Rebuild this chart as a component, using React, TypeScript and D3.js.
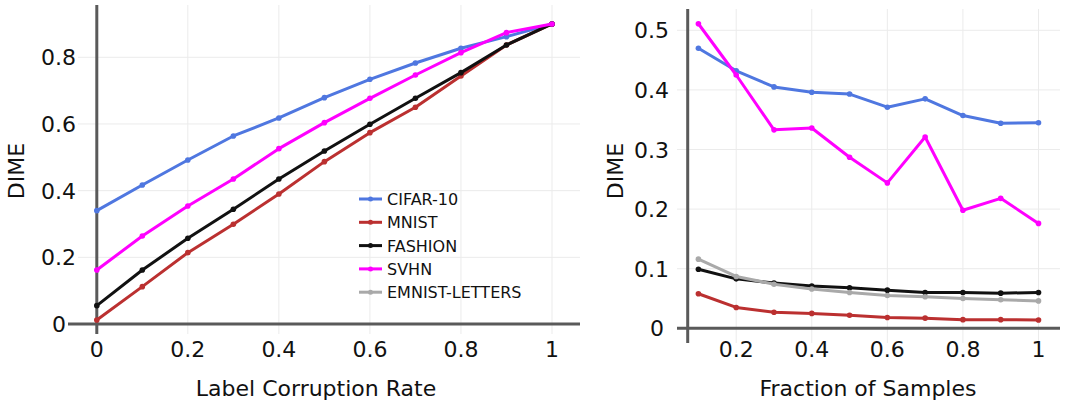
import React, { useRef, useEffect } from "react";
import * as d3 from "d3";

// left panel: DIME vs label corruption rate
const corruptionRates = [0, 0.1, 0.2, 0.3, 0.4, 0.5, 0.6, 0.7, 0.8, 0.9, 1];
const cifarCorrupt = [0.34, 0.417, 0.492, 0.564, 0.618, 0.679, 0.734, 0.783, 0.827, 0.862, 0.9];
const mnistCorrupt = [0.012, 0.112, 0.214, 0.299, 0.39, 0.487, 0.574, 0.65, 0.744, 0.837, 0.9];
const fashionCorrupt = [0.055, 0.162, 0.257, 0.344, 0.435, 0.519, 0.599, 0.677, 0.754, 0.837, 0.9];
const svhnCorrupt = [0.162, 0.264, 0.354, 0.435, 0.526, 0.604, 0.677, 0.747, 0.814, 0.874, 0.9];
const emnistCorrupt: number[] = [];

// right panel: DIME vs fraction of samples
const fractions = [0.1, 0.2, 0.3, 0.4, 0.5, 0.6, 0.7, 0.8, 0.9, 1];
const cifarFrac = [0.47, 0.432, 0.405, 0.396, 0.393, 0.371, 0.385, 0.357, 0.344, 0.345];
const mnistFrac = [0.058, 0.035, 0.027, 0.025, 0.022, 0.018, 0.017, 0.0145, 0.0145, 0.014];
const fashionFrac = [0.099, 0.083, 0.076, 0.071, 0.068, 0.064, 0.06, 0.06, 0.059, 0.06];
const svhnFrac = [0.511, 0.425, 0.333, 0.336, 0.287, 0.244, 0.321, 0.198, 0.218, 0.176];
const emnistFrac = [0.116, 0.087, 0.074, 0.066, 0.06, 0.055, 0.053, 0.05, 0.048, 0.046];

const seriesNames = ["CIFAR-10", "MNIST", "FASHION", "SVHN", "EMNIST-LETTERS"];
const seriesColors = ["#4f77e0", "#bb3030", "#111111", "#ff00ff", "#a9a9a9"];

const leftXTicks = [0, 0.2, 0.4, 0.6, 0.8, 1];
const leftYTicks = [0, 0.2, 0.4, 0.6, 0.8];
const rightXTicks = [0.2, 0.4, 0.6, 0.8, 1];
const rightYTicks = [0, 0.1, 0.2, 0.3, 0.4, 0.5];

const FONT = "DejaVu Sans, sans-serif";

const App = () => {
  const ref = useRef<SVGSVGElement>(null);

  useEffect(() => {
    const svg = d3.select(ref.current);
    svg.selectAll("*").remove();

    const drawPanel = (opts: any) => {
      const { xs, ys, x, y, box, axisX, xTicks, yTicks, xTitle, titleX } = opts;
      const g = svg.append("g");

      // grid
      g.selectAll(".vgrid")
        .data(xTicks)
        .enter()
        .append("line")
        .attr("x1", (d: number) => x(d))
        .attr("x2", (d: number) => x(d))
        .attr("y1", box.top)
        .attr("y2", box.bottom)
        .attr("stroke", "#ebebeb")
        .attr("stroke-width", 1);
      g.selectAll(".hgrid")
        .data(yTicks)
        .enter()
        .append("line")
        .attr("x1", box.gridLeft)
        .attr("x2", box.right)
        .attr("y1", (d: number) => y(d))
        .attr("y2", (d: number) => y(d))
        .attr("stroke", "#ebebeb")
        .attr("stroke-width", 1);

      // axis lines
      g.append("line")
        .attr("x1", box.left)
        .attr("x2", box.right)
        .attr("y1", y(0))
        .attr("y2", y(0))
        .attr("stroke", "#5a5a5a")
        .attr("stroke-width", 3);
      g.append("line")
        .attr("x1", axisX)
        .attr("x2", axisX)
        .attr("y1", box.top)
        .attr("y2", box.bottom)
        .attr("stroke", "#5a5a5a")
        .attr("stroke-width", 3);

      // tick labels
      g.selectAll(".xlab")
        .data(xTicks)
        .enter()
        .append("text")
        .attr("x", (d: number) => x(d))
        .attr("y", 357)
        .attr("text-anchor", "middle")
        .attr("font-family", FONT)
        .attr("font-size", 22)
        .attr("fill", "#111")
        .text((d: number) => String(d));
      g.selectAll(".ylab")
        .data(yTicks)
        .enter()
        .append("text")
        // the zero label sits left of where the x axis line starts
        .attr("x", (d: number) => (d === 0 ? box.zeroLabelRight : box.labelRight))
        .attr("y", (d: number) => y(d) + 8)
        .attr("text-anchor", "end")
        .attr("font-family", FONT)
        .attr("font-size", 22)
        .attr("fill", "#111")
        .text((d: number) => String(d));

      // titles
      g.append("text")
        .attr("x", titleX)
        .attr("y", 396)
        .attr("text-anchor", "middle")
        .attr("font-family", FONT)
        .attr("font-size", 22)
        .attr("fill", "#111")
        .text(xTitle);
      g.append("text")
        .attr("transform", `translate(${box.yTitleX}, 171) rotate(-90)`)
        .attr("text-anchor", "middle")
        .attr("font-family", FONT)
        .attr("font-size", 22)
        .attr("fill", "#111")
        .text("DIME");

      // series
      const line = d3
        .line<[number, number]>()
        .x((d) => x(d[0]))
        .y((d) => y(d[1]));
      ys.forEach((vals: number[], i: number) => {
        if (!vals.length) return;
        const pts: [number, number][] = vals.map((v, j) => [xs[j], v]);
        g.append("path")
          .datum(pts)
          .attr("d", line)
          .attr("fill", "none")
          .attr("stroke", seriesColors[i])
          .attr("stroke-width", 3)
          .attr("stroke-linejoin", "round");
        g.selectAll(null)
          .data(pts)
          .enter()
          .append("circle")
          .attr("cx", (d) => x(d[0]))
          .attr("cy", (d) => y(d[1]))
          .attr("r", 2.8)
          .attr("fill", seriesColors[i]);
      });
      return g;
    };

    // left panel
    const xL = d3.scaleLinear().domain([0, 1]).range([96.8, 552]);
    const yL = d3.scaleLinear().domain([0, 0.8]).range([324, 57.3]);
    const gL = drawPanel({
      xs: corruptionRates,
      ys: [cifarCorrupt, mnistCorrupt, fashionCorrupt, svhnCorrupt, emnistCorrupt],
      x: xL,
      y: yL,
      box: {
        left: 68, right: 580, top: 5, bottom: 334, gridLeft: 78,
        labelRight: 76, zeroLabelRight: 66, yTitleX: 24,
      },
      axisX: xL(0),
      xTicks: leftXTicks,
      yTicks: leftYTicks,
      xTitle: "Label Corruption Rate",
      titleX: 316,
    });

    // legend
    const leg = gL.append("g");
    seriesNames.forEach((name, i) => {
      const cy = 199 + i * 23.3;
      leg.append("line")
        .attr("x1", 359)
        .attr("x2", 382)
        .attr("y1", cy)
        .attr("y2", cy)
        .attr("stroke", seriesColors[i])
        .attr("stroke-width", 3);
      leg.append("circle").attr("cx", 370.5).attr("cy", cy).attr("r", 2.5).attr("fill", seriesColors[i]);
      leg.append("text")
        .attr("x", 387)
        .attr("y", cy + 6)
        .attr("font-family", FONT)
        .attr("font-size", 16)
        .attr("fill", "#111")
        .text(name);
    });

    // right panel
    const xR = d3.scaleLinear().domain([0.2, 1]).range([736.2, 1038.5]);
    const yR = d3.scaleLinear().domain([0, 0.5]).range([328.3, 30.3]);
    drawPanel({
      xs: fractions,
      ys: [cifarFrac, mnistFrac, fashionFrac, svhnFrac, emnistFrac],
      x: xR,
      y: yR,
      box: {
        left: 677, right: 1060, top: 9, bottom: 343, gridLeft: 677,
        labelRight: 669, zeroLabelRight: 664, yTitleX: 623,
      },
      axisX: 687.7,
      xTicks: rightXTicks,
      yTicks: rightYTicks,
      xTitle: "Fraction of Samples",
      titleX: 868,
    });
  }, []);

  return (
    <svg
      ref={ref}
      width={1065}
      height={400}
      style={{ position: "absolute", left: 0, top: 0, background: "#fff" }}
    />
  );
};

export default App;
